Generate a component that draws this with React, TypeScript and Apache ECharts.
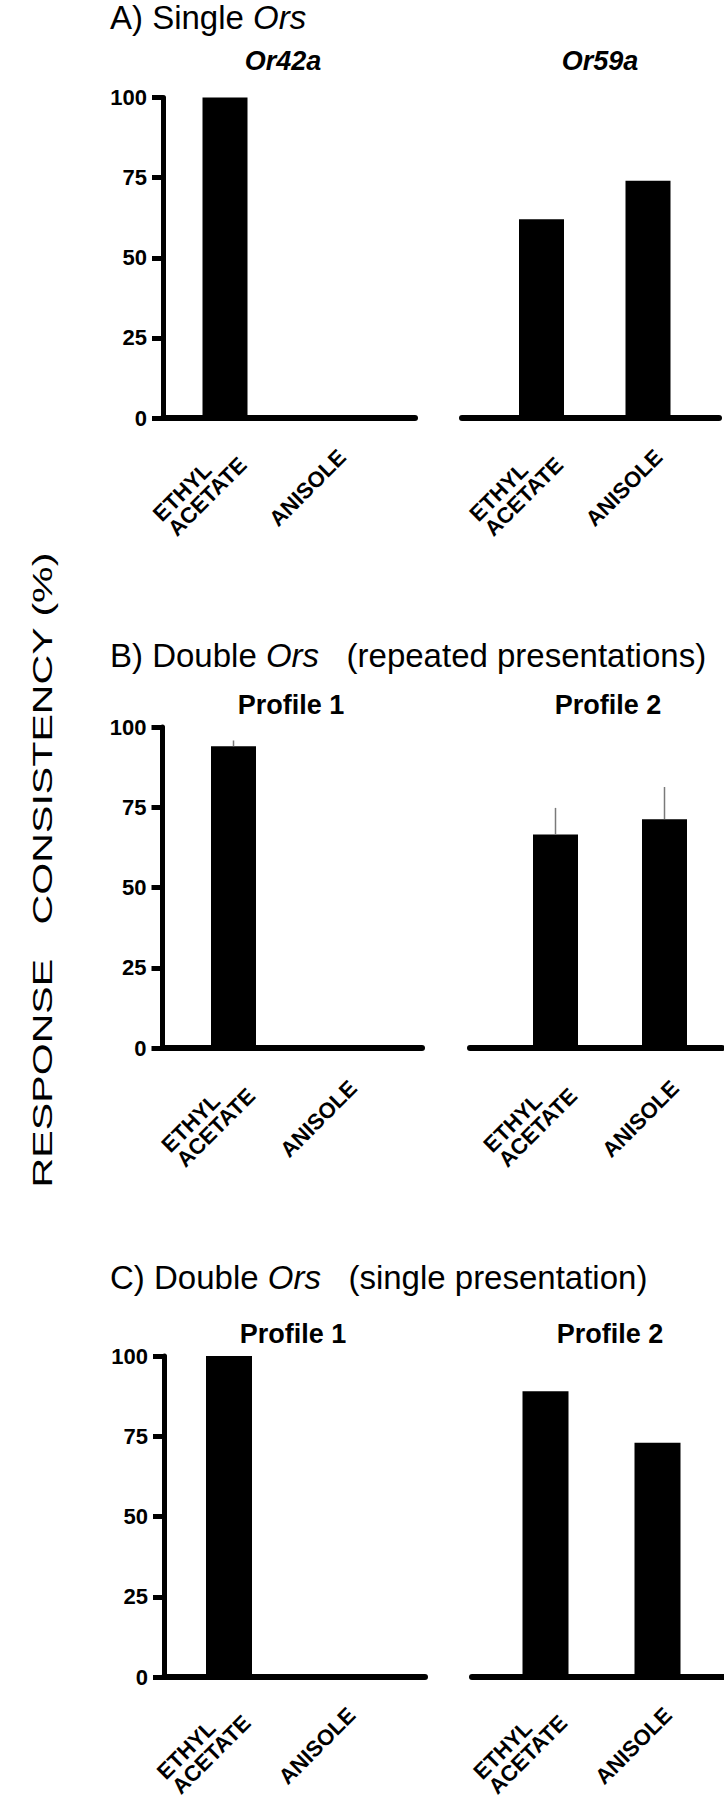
import React, { useEffect, useRef } from 'react';
import * as echarts from 'echarts';

// ---------- data ----------
const categories = ['ETHYL\nACETATE', 'ANISOLE'];
const yTickValues = [0, 25, 50, 75, 100];

const panelTitleMain = ['A) Single ', 'B) Double ', 'C) Double '];
const panelTitleItalic = ['Ors', 'Ors', 'Ors'];
const panelTitleTail = ['', '   (repeated presentations)', '   (single presentation)'];
const subplotTitles = [
  ['Or42a', 'Or59a'],
  ['Profile 1', 'Profile 2'],
  ['Profile 1', 'Profile 2'],
];
const yAxisTitle = 'RESPONSE   CONSISTENCY (%)';

// A) Single Ors
const singleOr42a = [100, 0];
const singleOr59a = [62, 74];
// B) Double Ors (repeated presentations): mean and upper end of error bar
const repeatedProfile1 = [94, 0];
const repeatedProfile1Upper = [95.8, 0];
const repeatedProfile2 = [66.5, 71.3];
const repeatedProfile2Upper = [74.8, 81.3];
// C) Double Ors (single presentation)
const singleProfile1 = [100, 0];
const singleProfile2 = [89, 73];

const subplotValues = [
  [singleOr42a, singleOr59a],
  [repeatedProfile1, repeatedProfile2],
  [singleProfile1, singleProfile2],
];
const subplotUpper: (number[] | null)[][] = [
  [null, null],
  [repeatedProfile1Upper, repeatedProfile2Upper],
  [null, null],
];

// ---------- layout (pixels) ----------
const FONT = "'Liberation Sans', Arial, Helvetica, sans-serif";
const layout = [
  {
    top: 97.5, bottom: 418, titleY: 17, subY: 61, barWidth: 45, labelMargin: 70,
    sub: [
      { x0: 163, x1: 415, c0: 225, c1: 331.5, tx: 283 },
      { x0: 462, x1: 719, c0: 541.5, c1: 648, tx: 600 },
    ],
    italicSub: true,
  },
  {
    top: 727, bottom: 1048, titleY: 655, subY: 705, barWidth: 45, labelMargin: 71,
    sub: [
      { x0: 162.5, x1: 422, c0: 233.5, c1: 342.5, tx: 291 },
      { x0: 470, x1: 722, c0: 555.5, c1: 664.5, tx: 608 },
    ],
    italicSub: false,
  },
  {
    top: 1356, bottom: 1677, titleY: 1277, subY: 1334, barWidth: 46, labelMargin: 69,
    sub: [
      { x0: 164, x1: 425, c0: 229, c1: 341, tx: 293 },
      { x0: 472, x1: 724, c0: 545.5, c1: 657.5, tx: 610 },
    ],
    italicSub: false,
  },
];

function labelFormatter(v: number) {
  const name = categories[Math.round(v)];
  if (name === undefined) return '';
  const lines = name.split('\n');
  if (lines.length > 1) return lines.map((l) => '{w|' + l + '}').join('\n');
  return '{s|' + name + '}';
}

function buildOption() {
  const grid: any[] = [];
  const xAxis: any[] = [];
  const yAxis: any[] = [];
  const series: any[] = [];
  const graphic: any[] = [];

  layout.forEach((p, pi) => {
    graphic.push({
      type: 'text',
      x: 110,
      y: p.titleY,
      style: {
        text: '{n|' + panelTitleMain[pi] + '}{i|' + panelTitleItalic[pi] + '}{n|' + panelTitleTail[pi] + '}',
        rich: {
          n: { fontSize: 33, fontFamily: FONT, fill: '#000', color: '#000' },
          i: { fontSize: 33, fontFamily: FONT, fontStyle: 'italic', fill: '#000', color: '#000' },
        },
        align: 'left',
        verticalAlign: 'middle',
        fill: '#000',
      },
    });

    p.sub.forEach((s, si) => {
      const idx = pi * 2 + si;
      const step = s.c1 - s.c0;
      grid.push({
        left: s.x0,
        top: p.top,
        width: s.x1 - s.x0,
        height: p.bottom - p.top,
        outerBoundsMode: 'none',
        containLabel: false,
      });
      xAxis.push({
        type: 'value',
        gridIndex: idx,
        min: (s.x0 - s.c0) / step,
        max: (s.x1 - s.c0) / step,
        axisLine: { show: true, onZero: false, lineStyle: { color: '#000', width: 6 } },
        axisTick: { show: false },
        splitLine: { show: false },
        axisLabel: {
          customValues: [0, 1],
          formatter: labelFormatter,
          rotate: 45,
          align: 'center',
          verticalAlign: 'middle',
          margin: p.labelMargin,
          padding: [0, 34, 34, 0],
          rich: {
            w: { fontSize: 22, fontWeight: 'bold', fontFamily: FONT, color: '#000', width: 104, align: 'left', lineHeight: 21 },
            s: { fontSize: 22, fontWeight: 'bold', fontFamily: FONT, color: '#000', lineHeight: 21 },
          },
        },
      });
      yAxis.push({
        type: 'value',
        gridIndex: idx,
        min: yTickValues[0],
        max: yTickValues[yTickValues.length - 1],
        interval: yTickValues[1] - yTickValues[0],
        show: si === 0,
        axisLine: { show: true, onZero: false, lineStyle: { color: '#000', width: 5 } },
        axisTick: { show: true, length: 11, lineStyle: { color: '#000', width: 5 } },
        splitLine: { show: false },
        axisLabel: { fontSize: 22, fontWeight: 'bold', fontFamily: FONT, color: '#000', margin: 16 },
      });
      series.push({
        type: 'bar',
        xAxisIndex: idx,
        yAxisIndex: idx,
        barWidth: p.barWidth,
        itemStyle: { color: '#000' },
        silent: true,
        data: subplotValues[pi][si].map((v, k) => [k, v]),
      });
      const upper = subplotUpper[pi][si];
      if (upper) {
        series.push({
          type: 'custom',
          xAxisIndex: idx,
          yAxisIndex: idx,
          z: 3,
          silent: true,
          encode: { x: 0, y: 1 },
          data: subplotValues[pi][si].map((v, k) => [k, v, upper[k]]),
          renderItem: (params: any, api: any) => {
            const x = api.value(0);
            const v = api.value(1);
            const u = api.value(2);
            if (!(u > v)) return null;
            const a = api.coord([x, v]);
            const b = api.coord([x, u]);
            return {
              type: 'line',
              shape: { x1: a[0], y1: a[1], x2: b[0], y2: b[1] },
              style: { stroke: '#7a7a7a', lineWidth: 1.5 },
            };
          },
        });
      }
      graphic.push({
        type: 'text',
        x: s.tx,
        y: p.subY,
        style: {
          text: subplotTitles[pi][si],
          fontSize: 27,
          fontWeight: 'bold',
          fontStyle: p.italicSub ? 'italic' : 'normal',
          fontFamily: FONT,
          fill: '#000',
          align: 'center',
          verticalAlign: 'middle',
        },
      });
    });
  });

  graphic.push({
    type: 'text',
    x: 42,
    y: 870,
    rotation: Math.PI / 2,
    scaleX: 1.47,
    style: {
      text: yAxisTitle,
      fontSize: 28,
      fontFamily: FONT,
      fill: '#000',
      align: 'center',
      verticalAlign: 'middle',
    },
  });

  return {
    animation: false,
    backgroundColor: '#fff',
    grid,
    xAxis,
    yAxis,
    series,
    graphic,
  };
}

export default function App() {
  const ref = useRef<HTMLDivElement>(null);
  useEffect(() => {
    if (!ref.current) return;
    const chart = echarts.init(ref.current, undefined, { renderer: 'svg' });
    chart.setOption(buildOption() as any);
    return () => chart.dispose();
  }, []);
  return (
    <div
      ref={ref}
      style={{ position: 'absolute', left: 0, top: 0, width: 724, height: 1800, background: '#fff' }}
    />
  );
}
